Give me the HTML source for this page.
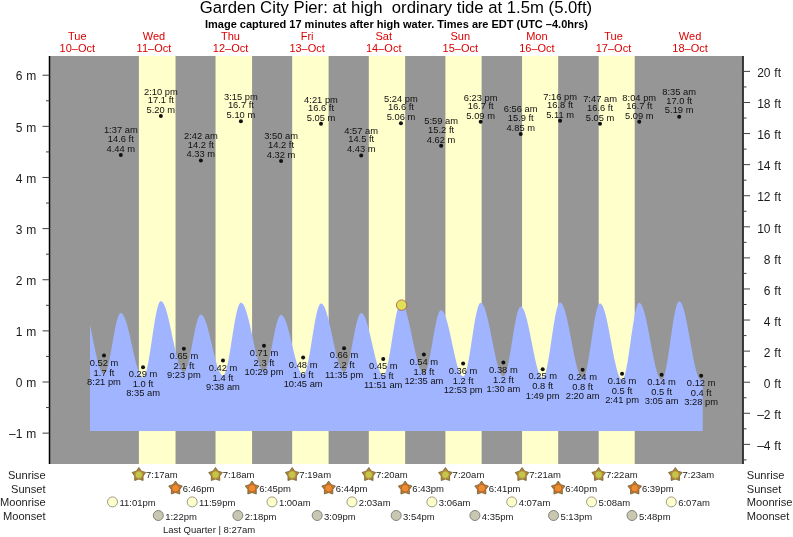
<!DOCTYPE html>
<html><head><meta charset="utf-8"><style>
html,body{margin:0;padding:0;background:#fff;width:793px;height:537px;overflow:hidden}
svg{will-change:transform}
text{font-family:"Liberation Sans",sans-serif}
</style></head><body>
<svg width="793" height="537" viewBox="0 0 793 537" style="display:block">
<rect x="49.5" y="56" width="693" height="408" fill="#969696"/>
<rect x="138.88" y="56" width="36.65" height="408" fill="#ffffcc"/>
<rect x="215.53" y="56" width="36.54" height="408" fill="#ffffcc"/>
<rect x="292.17" y="56" width="36.43" height="408" fill="#ffffcc"/>
<rect x="368.82" y="56" width="36.33" height="408" fill="#ffffcc"/>
<rect x="445.41" y="56" width="36.22" height="408" fill="#ffffcc"/>
<rect x="522.05" y="56" width="36.11" height="408" fill="#ffffcc"/>
<rect x="598.70" y="56" width="36.01" height="408" fill="#ffffcc"/>
<polygon fill="#a0b4ff" points="90,431 90.00,324.79 90.51,327.24 91.02,329.73 91.53,332.26 92.04,334.82 92.55,337.38 93.06,339.95 93.57,342.50 94.08,345.02 94.60,347.51 95.11,349.95 95.62,352.32 96.13,354.62 96.64,356.83 97.15,358.95 97.66,360.96 98.17,362.86 98.68,364.63 99.19,366.27 99.70,367.76 100.21,369.11 100.72,370.30 101.23,371.33 101.74,372.19 102.25,372.88 102.76,373.40 103.28,373.74 103.79,373.90 104.30,373.87 104.81,373.56 105.32,372.98 105.83,372.14 106.34,371.03 106.85,369.67 107.36,368.08 107.87,366.25 108.38,364.22 108.89,362.01 109.40,359.62 109.91,357.08 110.42,354.42 110.93,351.67 111.44,348.83 111.96,345.95 112.47,343.04 112.98,340.14 113.49,337.27 114.00,334.45 114.51,331.72 115.02,329.09 115.53,326.59 116.04,324.25 116.55,322.08 117.06,320.11 117.57,318.34 118.08,316.81 118.59,315.52 119.10,314.48 119.61,313.70 120.12,313.20 120.64,312.97 121.15,313.00 121.66,313.19 122.17,313.56 122.68,314.09 123.19,314.78 123.70,315.63 124.21,316.63 124.72,317.78 125.23,319.08 125.74,320.51 126.25,322.07 126.76,323.75 127.27,325.54 127.78,327.43 128.29,329.42 128.80,331.49 129.31,333.63 129.83,335.83 130.34,338.08 130.85,340.36 131.36,342.68 131.87,345.00 132.38,347.33 132.89,349.64 133.40,351.94 133.91,354.19 134.42,356.40 134.93,358.56 135.44,360.64 135.95,362.64 136.46,364.56 136.97,366.37 137.48,368.07 137.99,369.65 138.51,371.11 139.02,372.43 139.53,373.61 140.04,374.64 140.55,375.52 141.06,376.24 141.57,376.80 142.08,377.20 142.59,377.43 143.10,377.49 143.61,377.29 144.12,376.79 144.63,375.98 145.14,374.88 145.65,373.49 146.16,371.82 146.67,369.89 147.19,367.71 147.70,365.30 148.21,362.68 148.72,359.87 149.23,356.90 149.74,353.78 150.25,350.54 150.76,347.22 151.27,343.83 151.78,340.40 152.29,336.97 152.80,333.55 153.31,330.18 153.82,326.89 154.33,323.69 154.84,320.62 155.35,317.71 155.87,314.97 156.38,312.42 156.89,310.09 157.40,308.00 157.91,306.17 158.42,304.60 158.93,303.31 159.44,302.32 159.95,301.62 160.46,301.23 160.97,301.14 161.48,301.27 161.99,301.57 162.50,302.03 163.01,302.67 163.52,303.47 164.03,304.42 164.55,305.54 165.06,306.80 165.57,308.21 166.08,309.75 166.59,311.43 167.10,313.23 167.61,315.13 168.12,317.15 168.63,319.25 169.14,321.45 169.65,323.71 170.16,326.04 170.67,328.41 171.18,330.83 171.69,333.27 172.20,335.73 172.71,338.19 173.23,340.65 173.74,343.08 174.25,345.49 174.76,347.85 175.27,350.15 175.78,352.39 176.29,354.55 176.80,356.63 177.31,358.60 177.82,360.47 178.33,362.23 178.84,363.86 179.35,365.35 179.86,366.71 180.37,367.92 180.88,368.98 181.39,369.88 181.91,370.61 182.42,371.19 182.93,371.59 183.44,371.83 183.95,371.89 184.46,371.73 184.97,371.32 185.48,370.65 185.99,369.74 186.50,368.60 187.01,367.22 187.52,365.64 188.03,363.85 188.54,361.88 189.05,359.75 189.56,357.47 190.07,355.06 190.58,352.54 191.10,349.95 191.61,347.29 192.12,344.60 192.63,341.89 193.14,339.20 193.65,336.55 194.16,333.95 194.67,331.44 195.18,329.03 195.69,326.76 196.20,324.62 196.71,322.66 197.22,320.88 197.73,319.30 198.24,317.93 198.75,316.79 199.26,315.89 199.78,315.23 200.29,314.82 200.80,314.67 201.31,314.73 201.82,314.96 202.33,315.34 202.84,315.87 203.35,316.56 203.86,317.40 204.37,318.39 204.88,319.52 205.39,320.78 205.90,322.16 206.41,323.67 206.92,325.29 207.43,327.02 207.94,328.84 208.46,330.74 208.97,332.72 209.48,334.76 209.99,336.86 210.50,339.00 211.01,341.18 211.52,343.37 212.03,345.58 212.54,347.78 213.05,349.96 213.56,352.12 214.07,354.25 214.58,356.32 215.09,358.34 215.60,360.28 216.11,362.15 216.62,363.93 217.14,365.60 217.65,367.17 218.16,368.63 218.67,369.96 219.18,371.16 219.69,372.22 220.20,373.14 220.71,373.91 221.22,374.53 221.73,375.00 222.24,375.30 222.75,375.45 223.26,375.42 223.77,375.11 224.28,374.52 224.79,373.64 225.30,372.48 225.82,371.05 226.33,369.37 226.84,367.45 227.35,365.30 227.86,362.94 228.37,360.39 228.88,357.67 229.39,354.80 229.90,351.80 230.41,348.71 230.92,345.53 231.43,342.30 231.94,339.05 232.45,335.80 232.96,332.57 233.47,329.40 233.98,326.31 234.50,323.31 235.01,320.44 235.52,317.73 236.03,315.18 236.54,312.82 237.05,310.68 237.56,308.76 238.07,307.08 238.58,305.66 239.09,304.51 239.60,303.63 240.11,303.04 240.62,302.74 241.13,302.71 241.64,302.87 242.15,303.19 242.66,303.67 243.18,304.32 243.69,305.12 244.20,306.07 244.71,307.17 245.22,308.42 245.73,309.80 246.24,311.32 246.75,312.95 247.26,314.70 247.77,316.56 248.28,318.52 248.79,320.56 249.30,322.68 249.81,324.87 250.32,327.12 250.83,329.42 251.34,331.75 251.85,334.10 252.37,336.47 252.88,338.84 253.39,341.21 253.90,343.54 254.41,345.85 254.92,348.12 255.43,350.33 255.94,352.47 256.45,354.54 256.96,356.52 257.47,358.41 257.98,360.19 258.49,361.86 259.00,363.41 259.51,364.84 260.02,366.12 260.53,367.27 261.05,368.27 261.56,369.11 262.07,369.80 262.58,370.34 263.09,370.71 263.60,370.91 264.11,370.95 264.62,370.77 265.13,370.34 265.64,369.66 266.15,368.76 266.66,367.62 267.17,366.26 267.68,364.70 268.19,362.95 268.70,361.02 269.21,358.93 269.73,356.70 270.24,354.34 270.75,351.89 271.26,349.36 271.77,346.77 272.28,344.14 272.79,341.50 273.30,338.88 273.81,336.29 274.32,333.76 274.83,331.31 275.34,328.97 275.85,326.74 276.36,324.66 276.87,322.74 277.38,320.99 277.89,319.44 278.41,318.10 278.92,316.97 279.43,316.08 279.94,315.42 280.45,315.00 280.96,314.83 281.47,314.88 281.98,315.08 282.49,315.44 283.00,315.96 283.51,316.63 284.02,317.44 284.53,318.40 285.04,319.50 285.55,320.73 286.06,322.09 286.57,323.57 287.09,325.16 287.60,326.85 288.11,328.63 288.62,330.50 289.13,332.45 289.64,334.46 290.15,336.52 290.66,338.63 291.17,340.77 291.68,342.93 292.19,345.09 292.70,347.26 293.21,349.41 293.72,351.54 294.23,353.63 294.74,355.68 295.25,357.66 295.77,359.58 296.28,361.42 296.79,363.17 297.30,364.82 297.81,366.37 298.32,367.80 298.83,369.11 299.34,370.29 299.85,371.34 300.36,372.25 300.87,373.01 301.38,373.62 301.89,374.07 302.40,374.38 302.91,374.52 303.42,374.49 303.93,374.18 304.45,373.59 304.96,372.72 305.47,371.58 305.98,370.18 306.49,368.53 307.00,366.63 307.51,364.52 308.02,362.20 308.53,359.70 309.04,357.02 309.55,354.21 310.06,351.27 310.57,348.23 311.08,345.11 311.59,341.95 312.10,338.77 312.61,335.58 313.12,332.43 313.64,329.32 314.15,326.30 314.66,323.37 315.17,320.58 315.68,317.93 316.19,315.45 316.70,313.16 317.21,311.08 317.72,309.22 318.23,307.60 318.74,306.24 319.25,305.14 319.76,304.31 320.27,303.76 320.78,303.50 321.29,303.50 321.80,303.68 322.32,304.02 322.83,304.52 323.34,305.18 323.85,306.00 324.36,306.97 324.87,308.09 325.38,309.35 325.89,310.75 326.40,312.28 326.91,313.93 327.42,315.69 327.93,317.56 328.44,319.53 328.95,321.58 329.46,323.71 329.97,325.91 330.48,328.17 331.00,330.47 331.51,332.80 332.02,335.16 332.53,337.53 333.04,339.90 333.55,342.26 334.06,344.60 334.57,346.90 335.08,349.16 335.59,351.36 336.10,353.49 336.61,355.55 337.12,357.53 337.63,359.40 338.14,361.17 338.65,362.83 339.16,364.37 339.68,365.77 340.19,367.04 340.70,368.17 341.21,369.15 341.72,369.98 342.23,370.65 342.74,371.17 343.25,371.52 343.76,371.70 344.27,371.72 344.78,371.50 345.29,371.02 345.80,370.29 346.31,369.32 346.82,368.12 347.33,366.68 347.84,365.04 348.36,363.20 348.87,361.17 349.38,358.98 349.89,356.65 350.40,354.19 350.91,351.62 351.42,348.98 351.93,346.28 352.44,343.55 352.95,340.80 353.46,338.07 353.97,335.38 354.48,332.75 354.99,330.21 355.50,327.77 356.01,325.46 356.52,323.30 357.04,321.30 357.55,319.50 358.06,317.89 358.57,316.50 359.08,315.33 359.59,314.40 360.10,313.72 360.61,313.29 361.12,313.12 361.63,313.17 362.14,313.39 362.65,313.76 363.16,314.30 363.67,315.00 364.18,315.85 364.69,316.85 365.20,318.00 365.72,319.28 366.23,320.70 366.74,322.24 367.25,323.89 367.76,325.65 368.27,327.51 368.78,329.46 369.29,331.49 369.80,333.58 370.31,335.72 370.82,337.91 371.33,340.14 371.84,342.38 372.35,344.64 372.86,346.89 373.37,349.12 373.88,351.33 374.39,353.50 374.91,355.62 375.42,357.68 375.93,359.66 376.44,361.57 376.95,363.38 377.46,365.09 377.97,366.68 378.48,368.16 378.99,369.51 379.50,370.72 380.01,371.79 380.52,372.72 381.03,373.49 381.54,374.11 382.05,374.57 382.56,374.86 383.07,374.99 383.59,374.93 384.10,374.58 384.61,373.94 385.12,373.02 385.63,371.81 386.14,370.34 386.65,368.62 387.16,366.65 387.67,364.46 388.18,362.06 388.69,359.47 389.20,356.72 389.71,353.82 390.22,350.80 390.73,347.69 391.24,344.50 391.75,341.27 392.27,338.03 392.78,334.79 393.29,331.59 393.80,328.46 394.31,325.41 394.82,322.47 395.33,319.67 395.84,317.03 396.35,314.57 396.86,312.31 397.37,310.27 397.88,308.47 398.39,306.92 398.90,305.64 399.41,304.63 399.92,303.90 400.43,303.46 400.95,303.32 401.46,303.40 401.97,303.66 402.48,304.09 402.99,304.69 403.50,305.45 404.01,306.37 404.52,307.45 405.03,308.69 405.54,310.06 406.05,311.58 406.56,313.23 407.07,315.00 407.58,316.89 408.09,318.88 408.60,320.97 409.11,323.14 409.63,325.39 410.14,327.70 410.65,330.07 411.16,332.48 411.67,334.91 412.18,337.36 412.69,339.82 413.20,342.28 413.71,344.71 414.22,347.11 414.73,349.47 415.24,351.78 415.75,354.02 416.26,356.18 416.77,358.26 417.28,360.24 417.79,362.12 418.31,363.88 418.82,365.51 419.33,367.01 419.84,368.38 420.35,369.59 420.86,370.66 421.37,371.56 421.88,372.31 422.39,372.88 422.90,373.29 423.41,373.53 423.92,373.60 424.43,373.44 424.94,373.00 425.45,372.29 425.96,371.31 426.47,370.09 426.99,368.62 427.50,366.91 428.01,364.99 428.52,362.88 429.03,360.57 429.54,358.11 430.05,355.51 430.56,352.79 431.07,349.97 431.58,347.08 432.09,344.15 432.60,341.20 433.11,338.26 433.62,335.34 434.13,332.49 434.64,329.71 435.15,327.04 435.66,324.50 436.18,322.11 436.69,319.89 437.20,317.86 437.71,316.04 438.22,314.44 438.73,313.08 439.24,311.97 439.75,311.12 440.26,310.53 440.77,310.22 441.28,310.17 441.79,310.32 442.30,310.64 442.81,311.14 443.32,311.81 443.83,312.65 444.34,313.64 444.86,314.80 445.37,316.10 445.88,317.56 446.39,319.14 446.90,320.86 447.41,322.69 447.92,324.63 448.43,326.67 448.94,328.80 449.45,331.01 449.96,333.28 450.47,335.61 450.98,337.97 451.49,340.37 452.00,342.77 452.51,345.19 453.02,347.59 453.54,349.97 454.05,352.31 454.56,354.61 455.07,356.84 455.58,359.00 456.09,361.08 456.60,363.07 457.11,364.95 457.62,366.72 458.13,368.36 458.64,369.87 459.15,371.23 459.66,372.45 460.17,373.52 460.68,374.42 461.19,375.16 461.70,375.73 462.22,376.13 462.73,376.35 463.24,376.39 463.75,376.17 464.26,375.64 464.77,374.81 465.28,373.69 465.79,372.29 466.30,370.61 466.81,368.67 467.32,366.49 467.83,364.08 468.34,361.48 468.85,358.69 469.36,355.74 469.87,352.65 470.38,349.46 470.90,346.18 471.41,342.85 471.92,339.50 472.43,336.14 472.94,332.81 473.45,329.54 473.96,326.36 474.47,323.28 474.98,320.35 475.49,317.57 476.00,314.98 476.51,312.59 477.02,310.43 477.53,308.51 478.04,306.85 478.55,305.46 479.06,304.36 479.58,303.56 480.09,303.05 480.60,302.85 481.11,302.92 481.62,303.16 482.13,303.59 482.64,304.20 483.15,304.98 483.66,305.93 484.17,307.05 484.68,308.34 485.19,309.77 485.70,311.36 486.21,313.09 486.72,314.94 487.23,316.93 487.74,319.02 488.26,321.21 488.77,323.50 489.28,325.86 489.79,328.30 490.30,330.79 490.81,333.32 491.32,335.88 491.83,338.46 492.34,341.05 492.85,343.62 493.36,346.18 493.87,348.71 494.38,351.18 494.89,353.60 495.40,355.95 495.91,358.22 496.42,360.39 496.93,362.46 497.45,364.41 497.96,366.24 498.47,367.94 498.98,369.50 499.49,370.90 500.00,372.15 500.51,373.23 501.02,374.15 501.53,374.89 502.04,375.46 502.55,375.85 503.06,376.05 503.57,376.07 504.08,375.81 504.59,375.26 505.10,374.42 505.61,373.29 506.13,371.89 506.64,370.23 507.15,368.32 507.66,366.19 508.17,363.83 508.68,361.29 509.19,358.58 509.70,355.72 510.21,352.73 510.72,349.65 511.23,346.50 511.74,343.30 512.25,340.09 512.76,336.88 513.27,333.72 513.78,330.62 514.29,327.61 514.81,324.72 515.32,321.97 515.83,319.39 516.34,316.99 516.85,314.81 517.36,312.85 517.87,311.13 518.38,309.67 518.89,308.48 519.40,307.58 519.91,306.96 520.42,306.63 520.93,306.60 521.44,306.77 521.95,307.13 522.46,307.68 522.97,308.42 523.49,309.34 524.00,310.43 524.51,311.69 525.02,313.12 525.53,314.70 526.04,316.43 526.55,318.29 527.06,320.29 527.57,322.40 528.08,324.62 528.59,326.93 529.10,329.33 529.61,331.79 530.12,334.31 530.63,336.88 531.14,339.47 531.65,342.08 532.17,344.69 532.68,347.29 533.19,349.86 533.70,352.39 534.21,354.87 534.72,357.28 535.23,359.61 535.74,361.85 536.25,363.98 536.76,366.00 537.27,367.90 537.78,369.66 538.29,371.27 538.80,372.73 539.31,374.02 539.82,375.15 540.33,376.10 540.85,376.87 541.36,377.46 541.87,377.86 542.38,378.08 542.89,378.09 543.40,377.80 543.91,377.20 544.42,376.29 544.93,375.06 545.44,373.55 545.95,371.75 546.46,369.68 546.97,367.36 547.48,364.82 547.99,362.06 548.50,359.12 549.01,356.03 549.53,352.79 550.04,349.46 550.55,346.04 551.06,342.58 551.57,339.09 552.08,335.62 552.59,332.19 553.10,328.82 553.61,325.56 554.12,322.42 554.63,319.43 555.14,316.62 555.65,314.01 556.16,311.62 556.67,309.48 557.18,307.60 557.69,306.00 558.20,304.69 558.72,303.69 559.23,302.99 559.74,302.61 560.25,302.55 560.76,302.71 561.27,303.05 561.78,303.59 562.29,304.31 562.80,305.22 563.31,306.30 563.82,307.56 564.33,308.98 564.84,310.56 565.35,312.29 565.86,314.17 566.37,316.17 566.88,318.30 567.40,320.54 567.91,322.89 568.42,325.32 568.93,327.82 569.44,330.39 569.95,333.01 570.46,335.67 570.97,338.35 571.48,341.04 571.99,343.73 572.50,346.40 573.01,349.05 573.52,351.64 574.03,354.19 574.54,356.66 575.05,359.05 575.56,361.34 576.08,363.53 576.59,365.60 577.10,367.55 577.61,369.35 578.12,371.02 578.63,372.52 579.14,373.87 579.65,375.04 580.16,376.04 580.67,376.86 581.18,377.49 581.69,377.94 582.20,378.20 582.71,378.26 583.22,378.06 583.73,377.53 584.24,376.70 584.76,375.56 585.27,374.12 585.78,372.41 586.29,370.42 586.80,368.18 587.31,365.72 587.82,363.04 588.33,360.17 588.84,357.14 589.35,353.97 589.86,350.68 590.37,347.32 590.88,343.90 591.39,340.45 591.90,337.01 592.41,333.60 592.92,330.25 593.44,327.00 593.95,323.86 594.46,320.86 594.97,318.04 595.48,315.41 595.99,312.99 596.50,310.82 597.01,308.89 597.52,307.24 598.03,305.88 598.54,304.81 599.05,304.05 599.56,303.60 600.07,303.47 600.58,303.59 601.09,303.91 601.60,304.43 602.12,305.15 602.63,306.06 603.14,307.15 603.65,308.43 604.16,309.88 604.67,311.51 605.18,313.29 605.69,315.22 606.20,317.29 606.71,319.48 607.22,321.80 607.73,324.22 608.24,326.73 608.75,329.32 609.26,331.97 609.77,334.68 610.28,337.42 610.79,340.18 611.31,342.95 611.82,345.71 612.33,348.45 612.84,351.15 613.35,353.80 613.86,356.39 614.37,358.89 614.88,361.31 615.39,363.61 615.90,365.81 616.41,367.87 616.92,369.79 617.43,371.57 617.94,373.18 618.45,374.62 618.96,375.89 619.47,376.98 619.99,377.88 620.50,378.58 621.01,379.09 621.52,379.40 622.03,379.51 622.54,379.36 623.05,378.87 623.56,378.06 624.07,376.92 624.58,375.47 625.09,373.73 625.60,371.70 626.11,369.40 626.62,366.86 627.13,364.09 627.64,361.13 628.15,357.99 628.67,354.70 629.18,351.30 629.69,347.81 630.20,344.26 630.71,340.69 631.22,337.12 631.73,333.58 632.24,330.11 632.75,326.74 633.26,323.49 633.77,320.40 634.28,317.48 634.79,314.78 635.30,312.30 635.81,310.08 636.32,308.13 636.83,306.46 637.35,305.10 637.86,304.05 638.37,303.32 638.88,302.93 639.39,302.86 639.90,303.02 640.41,303.38 640.92,303.93 641.43,304.67 641.94,305.61 642.45,306.72 642.96,308.01 643.47,309.48 643.98,311.10 644.49,312.89 645.00,314.81 645.51,316.88 646.03,319.07 646.54,321.37 647.05,323.78 647.56,326.27 648.07,328.85 648.58,331.48 649.09,334.17 649.60,336.90 650.11,339.65 650.62,342.40 651.13,345.15 651.64,347.88 652.15,350.58 652.66,353.23 653.17,355.82 653.68,358.34 654.19,360.76 654.71,363.09 655.22,365.31 655.73,367.40 656.24,369.36 656.75,371.18 657.26,372.84 657.77,374.34 658.28,375.67 658.79,376.83 659.30,377.80 659.81,378.59 660.32,379.19 660.83,379.59 661.34,379.79 661.85,379.79 662.36,379.47 662.87,378.84 663.39,377.88 663.90,376.61 664.41,375.04 664.92,373.18 665.43,371.05 665.94,368.67 666.45,366.05 666.96,363.21 667.47,360.19 667.98,357.01 668.49,353.69 669.00,350.25 669.51,346.74 670.02,343.18 670.53,339.59 671.04,336.01 671.55,332.47 672.07,329.00 672.58,325.62 673.09,322.37 673.60,319.27 674.11,316.35 674.62,313.63 675.13,311.14 675.64,308.89 676.15,306.90 676.66,305.20 677.17,303.79 677.68,302.68 678.19,301.90 678.70,301.43 679.21,301.30 679.72,301.42 680.23,301.75 680.74,302.29 681.26,303.03 681.77,303.98 682.28,305.12 682.79,306.45 683.30,307.96 683.81,309.65 684.32,311.50 684.83,313.51 685.34,315.67 685.85,317.95 686.36,320.36 686.87,322.88 687.38,325.49 687.89,328.18 688.40,330.94 688.91,333.76 689.42,336.61 689.94,339.48 690.45,342.35 690.96,345.22 691.47,348.07 691.98,350.87 692.49,353.63 693.00,356.31 693.51,358.91 694.02,361.41 694.53,363.80 695.04,366.07 695.55,368.21 696.06,370.20 696.57,372.03 697.08,373.69 697.59,375.18 698.10,376.48 698.62,377.60 699.13,378.51 699.64,379.23 700.15,379.74 700.66,380.04 701.17,380.13 701.68,379.96 702.19,379.47 702.70,378.68 702.7,431"/>
<line x1="49.5" y1="56" x2="49.5" y2="464" stroke="#000" stroke-width="1.5"/>
<line x1="743" y1="56" x2="743" y2="464" stroke="#000" stroke-width="1.5"/>
<line x1="42.5" y1="433.13" x2="49.5" y2="433.13" stroke="#404040" stroke-width="1"/>
<line x1="46" y1="407.56" x2="49.5" y2="407.56" stroke="#404040" stroke-width="1"/>
<line x1="42.5" y1="382.00" x2="49.5" y2="382.00" stroke="#404040" stroke-width="1"/>
<line x1="46" y1="356.44" x2="49.5" y2="356.44" stroke="#404040" stroke-width="1"/>
<line x1="42.5" y1="330.87" x2="49.5" y2="330.87" stroke="#404040" stroke-width="1"/>
<line x1="46" y1="305.31" x2="49.5" y2="305.31" stroke="#404040" stroke-width="1"/>
<line x1="42.5" y1="279.74" x2="49.5" y2="279.74" stroke="#404040" stroke-width="1"/>
<line x1="46" y1="254.18" x2="49.5" y2="254.18" stroke="#404040" stroke-width="1"/>
<line x1="42.5" y1="228.61" x2="49.5" y2="228.61" stroke="#404040" stroke-width="1"/>
<line x1="46" y1="203.04" x2="49.5" y2="203.04" stroke="#404040" stroke-width="1"/>
<line x1="42.5" y1="177.48" x2="49.5" y2="177.48" stroke="#404040" stroke-width="1"/>
<line x1="46" y1="151.91" x2="49.5" y2="151.91" stroke="#404040" stroke-width="1"/>
<line x1="42.5" y1="126.35" x2="49.5" y2="126.35" stroke="#404040" stroke-width="1"/>
<line x1="46" y1="100.78" x2="49.5" y2="100.78" stroke="#404040" stroke-width="1"/>
<line x1="42.5" y1="75.22" x2="49.5" y2="75.22" stroke="#404040" stroke-width="1"/>
<line x1="743" y1="459.90" x2="746.5" y2="459.90" stroke="#404040" stroke-width="1"/>
<line x1="743" y1="444.36" x2="750" y2="444.36" stroke="#404040" stroke-width="1"/>
<line x1="743" y1="428.82" x2="746.5" y2="428.82" stroke="#404040" stroke-width="1"/>
<line x1="743" y1="413.28" x2="750" y2="413.28" stroke="#404040" stroke-width="1"/>
<line x1="743" y1="397.74" x2="746.5" y2="397.74" stroke="#404040" stroke-width="1"/>
<line x1="743" y1="382.20" x2="750" y2="382.20" stroke="#404040" stroke-width="1"/>
<line x1="743" y1="366.66" x2="746.5" y2="366.66" stroke="#404040" stroke-width="1"/>
<line x1="743" y1="351.12" x2="750" y2="351.12" stroke="#404040" stroke-width="1"/>
<line x1="743" y1="335.58" x2="746.5" y2="335.58" stroke="#404040" stroke-width="1"/>
<line x1="743" y1="320.04" x2="750" y2="320.04" stroke="#404040" stroke-width="1"/>
<line x1="743" y1="304.50" x2="746.5" y2="304.50" stroke="#404040" stroke-width="1"/>
<line x1="743" y1="288.96" x2="750" y2="288.96" stroke="#404040" stroke-width="1"/>
<line x1="743" y1="273.42" x2="746.5" y2="273.42" stroke="#404040" stroke-width="1"/>
<line x1="743" y1="257.88" x2="750" y2="257.88" stroke="#404040" stroke-width="1"/>
<line x1="743" y1="242.34" x2="746.5" y2="242.34" stroke="#404040" stroke-width="1"/>
<line x1="743" y1="226.80" x2="750" y2="226.80" stroke="#404040" stroke-width="1"/>
<line x1="743" y1="211.26" x2="746.5" y2="211.26" stroke="#404040" stroke-width="1"/>
<line x1="743" y1="195.72" x2="750" y2="195.72" stroke="#404040" stroke-width="1"/>
<line x1="743" y1="180.18" x2="746.5" y2="180.18" stroke="#404040" stroke-width="1"/>
<line x1="743" y1="164.64" x2="750" y2="164.64" stroke="#404040" stroke-width="1"/>
<line x1="743" y1="149.10" x2="746.5" y2="149.10" stroke="#404040" stroke-width="1"/>
<line x1="743" y1="133.56" x2="750" y2="133.56" stroke="#404040" stroke-width="1"/>
<line x1="743" y1="118.02" x2="746.5" y2="118.02" stroke="#404040" stroke-width="1"/>
<line x1="743" y1="102.48" x2="750" y2="102.48" stroke="#404040" stroke-width="1"/>
<line x1="743" y1="86.94" x2="746.5" y2="86.94" stroke="#404040" stroke-width="1"/>
<line x1="743" y1="71.40" x2="750" y2="71.40" stroke="#404040" stroke-width="1"/>
<g font-family="Liberation Sans, sans-serif" font-size="12" fill="#1a1a1a" text-anchor="end" word-spacing="0.5">
<text x="36.2" y="438.33">–1 m</text>
<text x="36.2" y="387.20">0 m</text>
<text x="36.2" y="336.07">1 m</text>
<text x="36.2" y="284.94">2 m</text>
<text x="36.2" y="233.81">3 m</text>
<text x="36.2" y="182.68">4 m</text>
<text x="36.2" y="131.55">5 m</text>
<text x="36.2" y="80.42">6 m</text>
<text x="781" y="450.06">–4 ft</text>
<text x="781" y="418.98">–2 ft</text>
<text x="781" y="387.90">0 ft</text>
<text x="781" y="356.82">2 ft</text>
<text x="781" y="325.74">4 ft</text>
<text x="781" y="294.66">6 ft</text>
<text x="781" y="263.58">8 ft</text>
<text x="781" y="232.50">10 ft</text>
<text x="781" y="201.42">12 ft</text>
<text x="781" y="170.34">14 ft</text>
<text x="781" y="139.26">16 ft</text>
<text x="781" y="108.18">18 ft</text>
<text x="781" y="77.10">20 ft</text>
</g>
<text font-family="Liberation Sans, sans-serif" font-size="16.7" x="396" y="12.9" text-anchor="middle" fill="#000" xml:space="preserve">Garden City Pier: at high  ordinary tide at 1.5m (5.0ft)</text>
<text font-family="Liberation Sans, sans-serif" font-size="11" font-weight="bold" x="396.5" y="27.6" text-anchor="middle" fill="#000">Image captured 17 minutes after high water. Times are EDT (UTC –4.0hrs)</text>
<g font-family="Liberation Sans, sans-serif" font-size="11" fill="#dd0000" text-anchor="middle">
<text x="77.35" y="39.8">Tue</text><text x="77.35" y="51.8">10–Oct</text>
<text x="153.94" y="39.8">Wed</text><text x="153.94" y="51.8">11–Oct</text>
<text x="230.53" y="39.8">Thu</text><text x="230.53" y="51.8">12–Oct</text>
<text x="307.12" y="39.8">Fri</text><text x="307.12" y="51.8">13–Oct</text>
<text x="383.71" y="39.8">Sat</text><text x="383.71" y="51.8">14–Oct</text>
<text x="460.30" y="39.8">Sun</text><text x="460.30" y="51.8">15–Oct</text>
<text x="536.89" y="39.8">Mon</text><text x="536.89" y="51.8">16–Oct</text>
<text x="613.48" y="39.8">Tue</text><text x="613.48" y="51.8">17–Oct</text>
<text x="690.08" y="39.8">Wed</text><text x="690.08" y="51.8">18–Oct</text>
</g>
<g font-family="Liberation Sans, sans-serif" font-size="9.9" fill="#111" text-anchor="middle">
<circle cx="120.80" cy="154.98" r="2"/>
<text transform="translate(120.80 133.08) scale(0.945 1)">1:37 am</text>
<text transform="translate(120.80 141.98) scale(0.945 1)">14.6 ft</text>
<text transform="translate(120.80 151.78) scale(0.945 1)">4.44 m</text>
<circle cx="160.85" cy="116.12" r="2"/>
<text transform="translate(160.85 94.92) scale(0.945 1)">2:10 pm</text>
<text transform="translate(160.85 103.12) scale(0.945 1)">17.1 ft</text>
<text transform="translate(160.85 112.92) scale(0.945 1)">5.20 m</text>
<circle cx="200.85" cy="160.61" r="2"/>
<text transform="translate(200.85 138.71) scale(0.945 1)">2:42 am</text>
<text transform="translate(200.85 147.61) scale(0.945 1)">14.2 ft</text>
<text transform="translate(200.85 157.41) scale(0.945 1)">4.33 m</text>
<circle cx="240.90" cy="121.24" r="2"/>
<text transform="translate(240.90 100.04) scale(0.945 1)">3:15 pm</text>
<text transform="translate(240.90 108.24) scale(0.945 1)">16.7 ft</text>
<text transform="translate(240.90 118.04) scale(0.945 1)">5.10 m</text>
<circle cx="281.06" cy="161.12" r="2"/>
<text transform="translate(281.06 139.22) scale(0.945 1)">3:50 am</text>
<text transform="translate(281.06 148.12) scale(0.945 1)">14.2 ft</text>
<text transform="translate(281.06 157.92) scale(0.945 1)">4.32 m</text>
<circle cx="321.00" cy="123.79" r="2"/>
<text transform="translate(321.00 102.59) scale(0.945 1)">4:21 pm</text>
<text transform="translate(321.00 110.79) scale(0.945 1)">16.6 ft</text>
<text transform="translate(321.00 120.59) scale(0.945 1)">5.05 m</text>
<circle cx="361.21" cy="155.49" r="2"/>
<text transform="translate(361.21 133.59) scale(0.945 1)">4:57 am</text>
<text transform="translate(361.21 142.49) scale(0.945 1)">14.5 ft</text>
<text transform="translate(361.21 152.29) scale(0.945 1)">4.43 m</text>
<circle cx="400.94" cy="123.28" r="2"/>
<text transform="translate(400.94 102.08) scale(0.945 1)">5:24 pm</text>
<text transform="translate(400.94 110.28) scale(0.945 1)">16.6 ft</text>
<text transform="translate(400.94 120.08) scale(0.945 1)">5.06 m</text>
<circle cx="441.10" cy="145.78" r="2"/>
<text transform="translate(441.10 123.88) scale(0.945 1)">5:59 am</text>
<text transform="translate(441.10 132.78) scale(0.945 1)">15.2 ft</text>
<text transform="translate(441.10 142.58) scale(0.945 1)">4.62 m</text>
<circle cx="480.67" cy="121.75" r="2"/>
<text transform="translate(480.67 100.55) scale(0.945 1)">6:23 pm</text>
<text transform="translate(480.67 108.75) scale(0.945 1)">16.7 ft</text>
<text transform="translate(480.67 118.55) scale(0.945 1)">5.09 m</text>
<circle cx="520.72" cy="134.02" r="2"/>
<text transform="translate(520.72 112.12) scale(0.945 1)">6:56 am</text>
<text transform="translate(520.72 121.02) scale(0.945 1)">15.9 ft</text>
<text transform="translate(520.72 130.82) scale(0.945 1)">4.85 m</text>
<circle cx="560.08" cy="120.73" r="2"/>
<text transform="translate(560.08 99.53) scale(0.945 1)">7:16 pm</text>
<text transform="translate(560.08 107.73) scale(0.945 1)">16.8 ft</text>
<text transform="translate(560.08 117.53) scale(0.945 1)">5.11 m</text>
<circle cx="600.03" cy="123.79" r="2"/>
<text transform="translate(600.03 101.89) scale(0.945 1)">7:47 am</text>
<text transform="translate(600.03 110.79) scale(0.945 1)">16.6 ft</text>
<text transform="translate(600.03 120.59) scale(0.945 1)">5.05 m</text>
<circle cx="639.23" cy="121.75" r="2"/>
<text transform="translate(639.23 100.55) scale(0.945 1)">8:04 pm</text>
<text transform="translate(639.23 108.75) scale(0.945 1)">16.7 ft</text>
<text transform="translate(639.23 118.55) scale(0.945 1)">5.09 m</text>
<circle cx="679.17" cy="116.64" r="2"/>
<text transform="translate(679.17 94.74) scale(0.945 1)">8:35 am</text>
<text transform="translate(679.17 103.64) scale(0.945 1)">17.0 ft</text>
<text transform="translate(679.17 113.44) scale(0.945 1)">5.19 m</text>
<circle cx="103.99" cy="355.41" r="2"/>
<text transform="translate(103.99 365.61) scale(0.945 1)">0.52 m</text>
<text transform="translate(103.99 375.61) scale(0.945 1)">1.7 ft</text>
<text transform="translate(103.99 384.71) scale(0.945 1)">8:21 pm</text>
<circle cx="143.03" cy="367.17" r="2"/>
<text transform="translate(143.03 377.37) scale(0.945 1)">0.29 m</text>
<text transform="translate(143.03 387.37) scale(0.945 1)">1.0 ft</text>
<text transform="translate(143.03 396.47) scale(0.945 1)">8:35 am</text>
<circle cx="183.88" cy="348.77" r="2"/>
<text transform="translate(183.88 358.97) scale(0.945 1)">0.65 m</text>
<text transform="translate(183.88 368.97) scale(0.945 1)">2.1 ft</text>
<text transform="translate(183.88 378.07) scale(0.945 1)">9:23 pm</text>
<circle cx="222.98" cy="360.53" r="2"/>
<text transform="translate(222.98 370.73) scale(0.945 1)">0.42 m</text>
<text transform="translate(222.98 380.73) scale(0.945 1)">1.4 ft</text>
<text transform="translate(222.98 389.83) scale(0.945 1)">9:38 am</text>
<circle cx="263.98" cy="345.70" r="2"/>
<text transform="translate(263.98 355.90) scale(0.945 1)">0.71 m</text>
<text transform="translate(263.98 365.90) scale(0.945 1)">2.3 ft</text>
<text transform="translate(263.98 375.00) scale(0.945 1)">10:29 pm</text>
<circle cx="303.13" cy="357.46" r="2"/>
<text transform="translate(303.13 367.66) scale(0.945 1)">0.48 m</text>
<text transform="translate(303.13 377.66) scale(0.945 1)">1.6 ft</text>
<text transform="translate(303.13 386.76) scale(0.945 1)">10:45 am</text>
<circle cx="344.09" cy="348.25" r="2"/>
<text transform="translate(344.09 358.45) scale(0.945 1)">0.66 m</text>
<text transform="translate(344.09 368.45) scale(0.945 1)">2.2 ft</text>
<text transform="translate(344.09 377.55) scale(0.945 1)">11:35 pm</text>
<circle cx="383.23" cy="358.99" r="2"/>
<text transform="translate(383.23 369.19) scale(0.945 1)">0.45 m</text>
<text transform="translate(383.23 379.19) scale(0.945 1)">1.5 ft</text>
<text transform="translate(383.23 388.29) scale(0.945 1)">11:51 am</text>
<circle cx="423.87" cy="354.39" r="2"/>
<text transform="translate(423.87 364.59) scale(0.945 1)">0.54 m</text>
<text transform="translate(423.87 374.59) scale(0.945 1)">1.8 ft</text>
<text transform="translate(423.87 383.69) scale(0.945 1)">12:35 am</text>
<circle cx="463.12" cy="363.59" r="2"/>
<text transform="translate(463.12 373.79) scale(0.945 1)">0.36 m</text>
<text transform="translate(463.12 383.79) scale(0.945 1)">1.2 ft</text>
<text transform="translate(463.12 392.89) scale(0.945 1)">12:53 pm</text>
<circle cx="503.38" cy="362.57" r="2"/>
<text transform="translate(503.38 372.77) scale(0.945 1)">0.38 m</text>
<text transform="translate(503.38 382.77) scale(0.945 1)">1.2 ft</text>
<text transform="translate(503.38 391.87) scale(0.945 1)">1:30 am</text>
<circle cx="542.69" cy="369.22" r="2"/>
<text transform="translate(542.69 379.42) scale(0.945 1)">0.25 m</text>
<text transform="translate(542.69 389.42) scale(0.945 1)">0.8 ft</text>
<text transform="translate(542.69 398.52) scale(0.945 1)">1:49 pm</text>
<circle cx="582.63" cy="369.73" r="2"/>
<text transform="translate(582.63 379.93) scale(0.945 1)">0.24 m</text>
<text transform="translate(582.63 389.93) scale(0.945 1)">0.8 ft</text>
<text transform="translate(582.63 399.03) scale(0.945 1)">2:20 am</text>
<circle cx="622.05" cy="373.82" r="2"/>
<text transform="translate(622.05 384.02) scale(0.945 1)">0.16 m</text>
<text transform="translate(622.05 394.02) scale(0.945 1)">0.5 ft</text>
<text transform="translate(622.05 403.12) scale(0.945 1)">2:41 pm</text>
<circle cx="661.62" cy="374.84" r="2"/>
<text transform="translate(661.62 385.04) scale(0.945 1)">0.14 m</text>
<text transform="translate(661.62 395.04) scale(0.945 1)">0.5 ft</text>
<text transform="translate(661.62 404.14) scale(0.945 1)">3:05 am</text>
<circle cx="701.14" cy="375.86" r="2"/>
<text transform="translate(701.14 386.06) scale(0.945 1)">0.12 m</text>
<text transform="translate(701.14 396.06) scale(0.945 1)">0.4 ft</text>
<text transform="translate(701.14 405.16) scale(0.945 1)">3:28 pm</text>
</g>
<circle cx="401.6" cy="305.1" r="5.2" fill="#dfdf58" stroke="#a85234" stroke-width="0.8"/>
<g font-family="Liberation Sans, sans-serif" font-size="11.1" fill="#222">
<text x="45.6" y="478.8" text-anchor="end">Sunrise</text>
<text x="746.8" y="478.8">Sunrise</text>
<text x="45.6" y="492.8" text-anchor="end">Sunset</text>
<text x="746.8" y="492.8">Sunset</text>
<text x="45.6" y="506.3" text-anchor="end">Moonrise</text>
<text x="746.8" y="506.3">Moonrise</text>
<text x="45.6" y="519.6" text-anchor="end">Moonset</text>
<text x="746.8" y="519.6">Moonset</text>
</g>
<g font-family="Liberation Sans, sans-serif" font-size="9.5" fill="#222">
<polygon points="138.88,467.50 141.47,471.14 145.73,472.48 143.07,476.06 143.12,480.52 138.88,479.10 134.65,480.52 134.70,476.06 132.04,472.48 136.30,471.14" fill="#a48a3a" stroke="#6a5222" stroke-width="0.7" stroke-linejoin="miter"/><circle cx="138.88" cy="474.70" r="3.7" fill="#c2c64a" stroke="#c8802e" stroke-width="0.7"/>
<text x="146.08" y="477.5">7:17am</text>
<polygon points="215.53,467.50 218.12,471.14 222.38,472.48 219.71,476.06 219.76,480.52 215.53,479.10 211.30,480.52 211.34,476.06 208.68,472.48 212.94,471.14" fill="#a48a3a" stroke="#6a5222" stroke-width="0.7" stroke-linejoin="miter"/><circle cx="215.53" cy="474.70" r="3.7" fill="#c2c64a" stroke="#c8802e" stroke-width="0.7"/>
<text x="222.73" y="477.5">7:18am</text>
<polygon points="292.17,467.50 294.76,471.14 299.02,472.48 296.36,476.06 296.41,480.52 292.17,479.10 287.94,480.52 287.99,476.06 285.33,472.48 289.59,471.14" fill="#a48a3a" stroke="#6a5222" stroke-width="0.7" stroke-linejoin="miter"/><circle cx="292.17" cy="474.70" r="3.7" fill="#c2c64a" stroke="#c8802e" stroke-width="0.7"/>
<text x="299.37" y="477.5">7:19am</text>
<polygon points="368.82,467.50 371.40,471.14 375.67,472.48 373.00,476.06 373.05,480.52 368.82,479.10 364.59,480.52 364.63,476.06 361.97,472.48 366.23,471.14" fill="#a48a3a" stroke="#6a5222" stroke-width="0.7" stroke-linejoin="miter"/><circle cx="368.82" cy="474.70" r="3.7" fill="#c2c64a" stroke="#c8802e" stroke-width="0.7"/>
<text x="376.02" y="477.5">7:20am</text>
<polygon points="445.41,467.50 448.00,471.14 452.26,472.48 449.59,476.06 449.64,480.52 445.41,479.10 441.18,480.52 441.22,476.06 438.56,472.48 442.82,471.14" fill="#a48a3a" stroke="#6a5222" stroke-width="0.7" stroke-linejoin="miter"/><circle cx="445.41" cy="474.70" r="3.7" fill="#c2c64a" stroke="#c8802e" stroke-width="0.7"/>
<text x="452.61" y="477.5">7:20am</text>
<polygon points="522.05,467.50 524.64,471.14 528.90,472.48 526.24,476.06 526.29,480.52 522.05,479.10 517.82,480.52 517.87,476.06 515.21,472.48 519.47,471.14" fill="#a48a3a" stroke="#6a5222" stroke-width="0.7" stroke-linejoin="miter"/><circle cx="522.05" cy="474.70" r="3.7" fill="#c2c64a" stroke="#c8802e" stroke-width="0.7"/>
<text x="529.25" y="477.5">7:21am</text>
<polygon points="598.70,467.50 601.28,471.14 605.55,472.48 602.88,476.06 602.93,480.52 598.70,479.10 594.47,480.52 594.51,476.06 591.85,472.48 596.11,471.14" fill="#a48a3a" stroke="#6a5222" stroke-width="0.7" stroke-linejoin="miter"/><circle cx="598.70" cy="474.70" r="3.7" fill="#c2c64a" stroke="#c8802e" stroke-width="0.7"/>
<text x="605.90" y="477.5">7:22am</text>
<polygon points="675.34,467.50 677.93,471.14 682.19,472.48 679.53,476.06 679.57,480.52 675.34,479.10 671.11,480.52 671.16,476.06 668.49,472.48 672.76,471.14" fill="#a48a3a" stroke="#6a5222" stroke-width="0.7" stroke-linejoin="miter"/><circle cx="675.34" cy="474.70" r="3.7" fill="#c2c64a" stroke="#c8802e" stroke-width="0.7"/>
<text x="682.54" y="477.5">7:23am</text>
<polygon points="175.53,481.00 178.12,484.64 182.38,485.98 179.72,489.56 179.76,494.02 175.53,492.60 171.30,494.02 171.35,489.56 168.68,485.98 172.95,484.64" fill="#a8843a" stroke="#6a5222" stroke-width="0.7" stroke-linejoin="miter"/><circle cx="175.53" cy="488.20" r="3.8" fill="#e88e30" stroke="#d04a22" stroke-width="0.7"/>
<text x="182.73" y="492.3">6:46pm</text>
<polygon points="252.07,481.00 254.66,484.64 258.92,485.98 256.25,489.56 256.30,494.02 252.07,492.60 247.84,494.02 247.88,489.56 245.22,485.98 249.48,484.64" fill="#a8843a" stroke="#6a5222" stroke-width="0.7" stroke-linejoin="miter"/><circle cx="252.07" cy="488.20" r="3.8" fill="#e88e30" stroke="#d04a22" stroke-width="0.7"/>
<text x="259.27" y="492.3">6:45pm</text>
<polygon points="328.61,481.00 331.19,484.64 335.45,485.98 332.79,489.56 332.84,494.02 328.61,492.60 324.38,494.02 324.42,489.56 321.76,485.98 326.02,484.64" fill="#a8843a" stroke="#6a5222" stroke-width="0.7" stroke-linejoin="miter"/><circle cx="328.61" cy="488.20" r="3.8" fill="#e88e30" stroke="#d04a22" stroke-width="0.7"/>
<text x="335.81" y="492.3">6:44pm</text>
<polygon points="405.15,481.00 407.73,484.64 411.99,485.98 409.33,489.56 409.38,494.02 405.15,492.60 400.91,494.02 400.96,489.56 398.30,485.98 402.56,484.64" fill="#a8843a" stroke="#6a5222" stroke-width="0.7" stroke-linejoin="miter"/><circle cx="405.15" cy="488.20" r="3.8" fill="#e88e30" stroke="#d04a22" stroke-width="0.7"/>
<text x="412.35" y="492.3">6:43pm</text>
<polygon points="481.63,481.00 484.22,484.64 488.48,485.98 485.81,489.56 485.86,494.02 481.63,492.60 477.40,494.02 477.45,489.56 474.78,485.98 479.04,484.64" fill="#a8843a" stroke="#6a5222" stroke-width="0.7" stroke-linejoin="miter"/><circle cx="481.63" cy="488.20" r="3.8" fill="#e88e30" stroke="#d04a22" stroke-width="0.7"/>
<text x="488.83" y="492.3">6:41pm</text>
<polygon points="558.17,481.00 560.75,484.64 565.02,485.98 562.35,489.56 562.40,494.02 558.17,492.60 553.94,494.02 553.98,489.56 551.32,485.98 555.58,484.64" fill="#a8843a" stroke="#6a5222" stroke-width="0.7" stroke-linejoin="miter"/><circle cx="558.17" cy="488.20" r="3.8" fill="#e88e30" stroke="#d04a22" stroke-width="0.7"/>
<text x="565.37" y="492.3">6:40pm</text>
<polygon points="634.71,481.00 637.29,484.64 641.55,485.98 638.89,489.56 638.94,494.02 634.71,492.60 630.47,494.02 630.52,489.56 627.86,485.98 632.12,484.64" fill="#a8843a" stroke="#6a5222" stroke-width="0.7" stroke-linejoin="miter"/><circle cx="634.71" cy="488.20" r="3.8" fill="#e88e30" stroke="#d04a22" stroke-width="0.7"/>
<text x="641.91" y="492.3">6:39pm</text>
<circle cx="112.50" cy="501.9" r="5" fill="#ffffcc" stroke="#9a9a88" stroke-width="1"/>
<text x="119.40" y="505.6">11:01pm</text>
<circle cx="192.18" cy="501.9" r="5" fill="#ffffcc" stroke="#9a9a88" stroke-width="1"/>
<text x="199.08" y="505.6">11:59pm</text>
<circle cx="272.01" cy="501.9" r="5" fill="#ffffcc" stroke="#9a9a88" stroke-width="1"/>
<text x="278.91" y="505.6">1:00am</text>
<circle cx="351.96" cy="501.9" r="5" fill="#ffffcc" stroke="#9a9a88" stroke-width="1"/>
<text x="358.86" y="505.6">2:03am</text>
<circle cx="431.90" cy="501.9" r="5" fill="#ffffcc" stroke="#9a9a88" stroke-width="1"/>
<text x="438.80" y="505.6">3:06am</text>
<circle cx="511.73" cy="501.9" r="5" fill="#ffffcc" stroke="#9a9a88" stroke-width="1"/>
<text x="518.63" y="505.6">4:07am</text>
<circle cx="591.57" cy="501.9" r="5" fill="#ffffcc" stroke="#9a9a88" stroke-width="1"/>
<text x="598.47" y="505.6">5:08am</text>
<circle cx="671.30" cy="501.9" r="5" fill="#ffffcc" stroke="#9a9a88" stroke-width="1"/>
<text x="678.20" y="505.6">6:07am</text>
<circle cx="158.30" cy="515.5" r="5" fill="#c8c8b2" stroke="#808078" stroke-width="1"/>
<text x="165.20" y="519.8">1:22pm</text>
<circle cx="237.87" cy="515.5" r="5" fill="#c8c8b2" stroke="#808078" stroke-width="1"/>
<text x="244.77" y="519.8">2:18pm</text>
<circle cx="317.17" cy="515.5" r="5" fill="#c8c8b2" stroke="#808078" stroke-width="1"/>
<text x="324.07" y="519.8">3:09pm</text>
<circle cx="396.16" cy="515.5" r="5" fill="#c8c8b2" stroke="#808078" stroke-width="1"/>
<text x="403.06" y="519.8">3:54pm</text>
<circle cx="474.93" cy="515.5" r="5" fill="#c8c8b2" stroke="#808078" stroke-width="1"/>
<text x="481.83" y="519.8">4:35pm</text>
<circle cx="553.54" cy="515.5" r="5" fill="#c8c8b2" stroke="#808078" stroke-width="1"/>
<text x="560.44" y="519.8">5:13pm</text>
<circle cx="631.99" cy="515.5" r="5" fill="#c8c8b2" stroke="#808078" stroke-width="1"/>
<text x="638.89" y="519.8">5:48pm</text>
<text x="163" y="532.8">Last Quarter | 8:27am</text>
</g>
</svg>
</body></html>
